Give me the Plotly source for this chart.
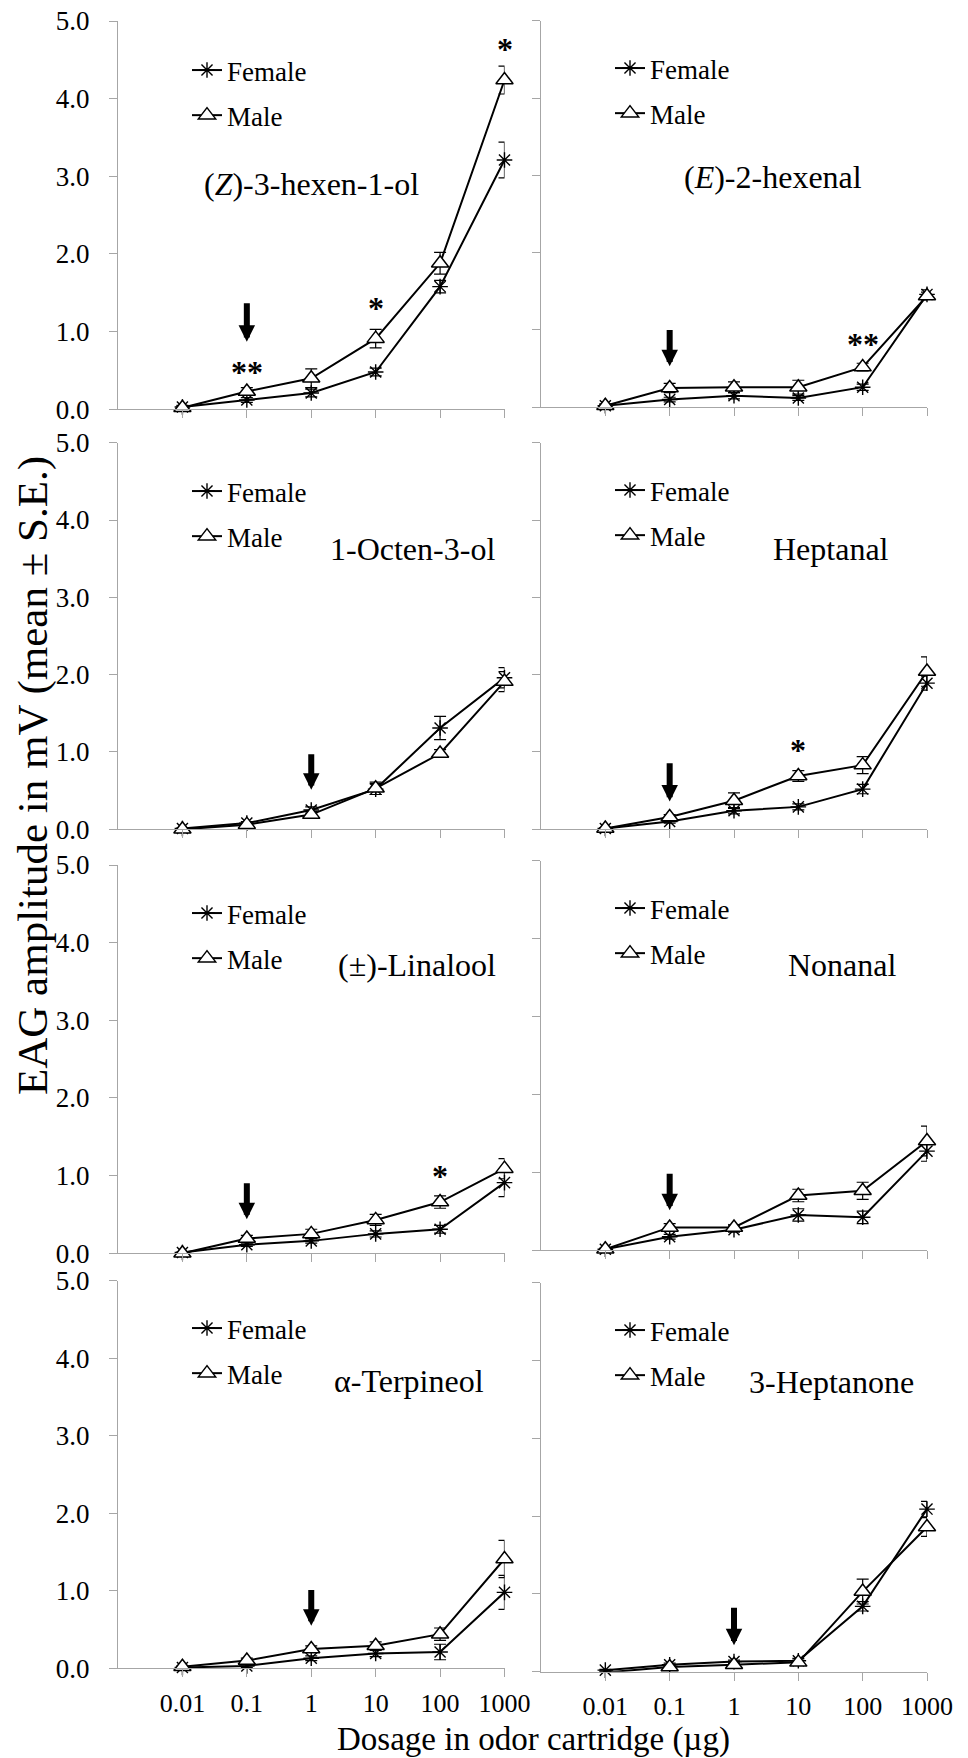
import math
import plotly.graph_objects as go

# ---------------- data ----------------
doses = [0.01, 0.1, 1, 10, 100, 1000]
dose_labels = ["0.01", "0.1", "1", "10", "100", "1000"]
y_ticks = [0, 1, 2, 3, 4, 5]
y_tick_labels = ["0.0", "1.0", "2.0", "3.0", "4.0", "5.0"]

compound_names = ["(<i>Z</i>)-3-hexen-1-ol", "(<i>E</i>)-2-hexenal", "1-Octen-3-ol", "Heptanal",
                  "(±)-Linalool", "Nonanal", "α-Terpineol", "3-Heptanone"]

hexenol_female = [0.03, 0.12, 0.21, 0.48, 1.58, 3.21]
hexenol_female_se = [0.02, 0.03, 0.05, 0.05, 0.08, 0.23]
hexenol_male = [0.02, 0.23, 0.40, 0.91, 1.88, 4.24]
hexenol_male_se = [0.02, 0.05, 0.12, 0.12, 0.14, 0.18]

hexenal_female = [0.02, 0.10, 0.15, 0.12, 0.26, 1.46]
hexenal_female_se = [0.02, 0.03, 0.04, 0.03, 0.04, 0.06]
hexenal_male = [0.02, 0.25, 0.26, 0.26, 0.52, 1.44]
hexenal_male_se = [0.02, 0.06, 0.07, 0.09, 0.05, 0.05]

octenol_female = [0.01, 0.08, 0.25, 0.52, 1.31, 1.96]
octenol_female_se = [0.01, 0.02, 0.04, 0.07, 0.15, 0.13]
octenol_male = [0.00, 0.06, 0.19, 0.53, 0.98, 1.91]
octenol_male_se = [0.01, 0.02, 0.04, 0.08, 0.05, 0.13]

heptanal_female = [0.01, 0.10, 0.24, 0.29, 0.52, 1.89]
heptanal_female_se = [0.01, 0.02, 0.04, 0.04, 0.06, 0.09]
heptanal_male = [0.01, 0.16, 0.37, 0.69, 0.83, 2.04]
heptanal_male_se = [0.01, 0.03, 0.10, 0.07, 0.11, 0.19]

linalool_female = [0.01, 0.11, 0.16, 0.25, 0.31, 0.91]
linalool_female_se = [0.01, 0.02, 0.03, 0.04, 0.05, 0.18]
linalool_male = [0.00, 0.19, 0.25, 0.43, 0.66, 1.09]
linalool_male_se = [0.01, 0.04, 0.06, 0.07, 0.08, 0.13]

nonanal_female = [0.01, 0.17, 0.26, 0.45, 0.42, 1.27]
nonanal_female_se = [0.01, 0.03, 0.03, 0.08, 0.08, 0.13]
nonanal_male = [0.01, 0.29, 0.29, 0.70, 0.76, 1.40]
nonanal_male_se = [0.01, 0.05, 0.03, 0.08, 0.11, 0.19]

terpineol_female = [0.01, 0.03, 0.13, 0.19, 0.21, 0.98]
terpineol_female_se = [0.01, 0.02, 0.03, 0.04, 0.10, 0.22]
terpineol_male = [0.02, 0.10, 0.25, 0.29, 0.44, 1.41]
terpineol_male_se = [0.01, 0.03, 0.04, 0.05, 0.08, 0.24]

heptanone_female = [0.02, 0.09, 0.13, 0.14, 0.84, 2.09]
heptanone_female_se = [0.01, 0.02, 0.02, 0.03, 0.06, 0.10]
heptanone_male = [-0.01, 0.06, 0.09, 0.12, 1.03, 1.86]
heptanone_male_se = [0.01, 0.02, 0.02, 0.03, 0.16, 0.12]

female_series = [hexenol_female, hexenal_female, octenol_female, heptanal_female,
                 linalool_female, nonanal_female, terpineol_female, heptanone_female]
female_errors = [hexenol_female_se, hexenal_female_se, octenol_female_se, heptanal_female_se,
                 linalool_female_se, nonanal_female_se, terpineol_female_se, heptanone_female_se]
male_series = [hexenol_male, hexenal_male, octenol_male, heptanal_male,
               linalool_male, nonanal_male, terpineol_male, heptanone_male]
male_errors = [hexenol_male_se, hexenal_male_se, octenol_male_se, heptanal_male_se,
               linalool_male_se, nonanal_male_se, terpineol_male_se, heptanone_male_se]

# threshold arrows: dose, tip value, tail value (per panel)
arrow_doses = [0.1, 0.1, 1, 0.1, 0.1, 0.1, 1, 1]
arrow_tips = [0.87, 0.53, 0.51, 0.36, 0.44, 0.51, 0.55, 0.34]
arrow_tails = [1.385, 1.02, 0.99, 0.875, 0.92, 1.00, 1.03, 0.84]

# significance marks: panel, dose, level, text
sig_panels = [0, 0, 0, 1, 3, 4]
sig_doses = [0.1, 10, 1000, 100, 10, 100]
sig_levels = [0.57, 1.40, 4.73, 0.91, 1.11, 1.09]
sig_texts = ["**", "*", "*", "**", "*", "*"]

# ---------------- layout geometry ----------------
W, H = 968, 1758
FONT = "Liberation Serif, Times New Roman, serif"
AXIS_GRAY = "#a6a6a6"

x_px = [(118, 504.5), (541, 927)]
y_px = [(21, 409.3), (20.7, 407.3), (442.7, 829.3), (442.7, 829.3),
        (865, 1253.3), (860.7, 1250), (1280.7, 1668.3), (1282.7, 1671.7)]
label_pos = [(1.0, 2.90), (4.1, 2.98), (36.7, 3.63), (32.4, 3.63),
             (44.0, 3.71), (49.4, 3.66), (32.5, 3.70), (32.4, 3.73)]
legend_px = [(187, 93), (610, 91), (187, 514), (610, 513),
             (187, 936), (610, 931), (187, 1351), (610, 1353)]

fig = go.Figure()
layout = dict(
    width=W, height=H,
    margin=dict(l=0, r=0, t=0, b=0, pad=0, autoexpand=False),
    paper_bgcolor="white", plot_bgcolor="white",
    font=dict(family=FONT, color="black"),
    annotations=[],
)

for i in range(8):
    n = "" if i == 0 else str(i + 1)
    xa, ya = "x" + n, "y" + n
    leg = "legend" + n
    col = i % 2
    bottom = i >= 6
    x0, x1 = x_px[col]
    yt, yb = y_px[i]

    fig.add_trace(go.Scatter(
        x=doses, y=female_series[i], name="Female", mode="lines+markers",
        error_y=dict(type="data", array=female_errors[i], visible=True,
                     color="black", thickness=1.2, width=6),
        line=dict(color="black", width=2),
        marker=dict(symbol="asterisk-open", size=13, color="black",
                    line=dict(color="black", width=1.4)),
        xaxis=xa, yaxis=ya, legend=leg, legendgroup="f" + str(i), cliponaxis=False,
    ))
    fig.add_trace(go.Scatter(
        x=doses, y=male_series[i], name="Male", mode="lines+markers",
        error_y=dict(type="data", array=male_errors[i], visible=True,
                     color="black", thickness=1.2, width=6),
        line=dict(color="black", width=2),
        marker=dict(symbol="triangle-up", size=15, color="white",
                    line=dict(color="black", width=1.5)),
        xaxis=xa, yaxis=ya, legend=leg, legendgroup="m" + str(i), cliponaxis=False,
    ))

    layout["xaxis" + n] = dict(
        type="log", range=[-3, 3], domain=[x0 / W, x1 / W], anchor=ya,
        showline=True, linecolor=AXIS_GRAY, linewidth=1,
        ticks="outside", ticklen=8, tickcolor=AXIS_GRAY, tickwidth=1,
        tickvals=doses, ticktext=dose_labels, showticklabels=bottom,
        tickfont=dict(family=FONT, size=26, color="black"),
        ticklabelstandoff=3, automargin=False,
        showgrid=False, zeroline=False, fixedrange=True,
    )
    layout["yaxis" + n] = dict(
        range=[0, 5], domain=[1 - yb / H, 1 - yt / H], anchor=xa,
        showline=True, linecolor=AXIS_GRAY, linewidth=1,
        ticks="outside", ticklen=8, tickcolor=AXIS_GRAY, tickwidth=1,
        tickvals=y_ticks, ticktext=y_tick_labels, showticklabels=(col == 0),
        tickfont=dict(family=FONT, size=27, color="black"),
        ticklabelstandoff=14, automargin=False,
        showgrid=False, zeroline=False, fixedrange=True,
    )
    lx, ly = legend_px[i]
    layout[leg] = dict(
        x=lx / W, y=1 - ly / H, xanchor="left", yanchor="middle",
        xref="paper", yref="paper",
        bgcolor="rgba(0,0,0,0)", borderwidth=0,
        font=dict(family=FONT, size=27, color="black"),
        traceorder="grouped", tracegroupgap=7,
    )

    # compound name
    px_, py_ = label_pos[i]
    layout["annotations"].append(dict(
        x=math.log10(px_), y=py_, xref=xa, yref=ya, text=compound_names[i],
        showarrow=False, xanchor="center", yanchor="middle",
        font=dict(family=FONT, size=32, color="black"),
    ))
    # threshold arrow
    ad = math.log10(arrow_doses[i])
    layout["annotations"].append(dict(
        x=ad, y=arrow_tips[i], xref=xa, yref=ya,
        ax=ad, ay=arrow_tails[i], axref=xa, ayref=ya,
        text="", showarrow=True, arrowhead=2, arrowsize=0.55,
        arrowwidth=6, arrowcolor="black", standoff=0, startstandoff=0,
    ))

for p, d, lv, t in zip(sig_panels, sig_doses, sig_levels, sig_texts):
    n = "" if p == 0 else str(p + 1)
    layout["annotations"].append(dict(
        x=math.log10(d), y=lv, xref="x" + n, yref="y" + n, text="<b>" + t + "</b>",
        showarrow=False, xanchor="center", yanchor="middle", yshift=-7,
        font=dict(family=FONT, size=32, color="black"),
    ))

# axis titles
layout["annotations"].append(dict(
    x=533 / W, y=1 - 1739 / H, xref="paper", yref="paper",
    text="Dosage in odor cartridge (µg)", showarrow=False,
    xanchor="center", yanchor="middle",
    font=dict(family=FONT, size=33, color="black"),
))
layout["annotations"].append(dict(
    x=33 / W, y=1 - 776 / H, xref="paper", yref="paper",
    text="EAG amplitude in mV (mean ± S.E.)", showarrow=False, textangle=-90,
    xanchor="center", yanchor="middle",
    font=dict(family=FONT, size=43, color="black"),
))

fig.update_layout(**layout)
fig.write_html(
    "out.html",
    config={"displayModeBar": False},
    post_script="document.body.style.margin='0px';document.body.style.overflow='hidden';",
)
